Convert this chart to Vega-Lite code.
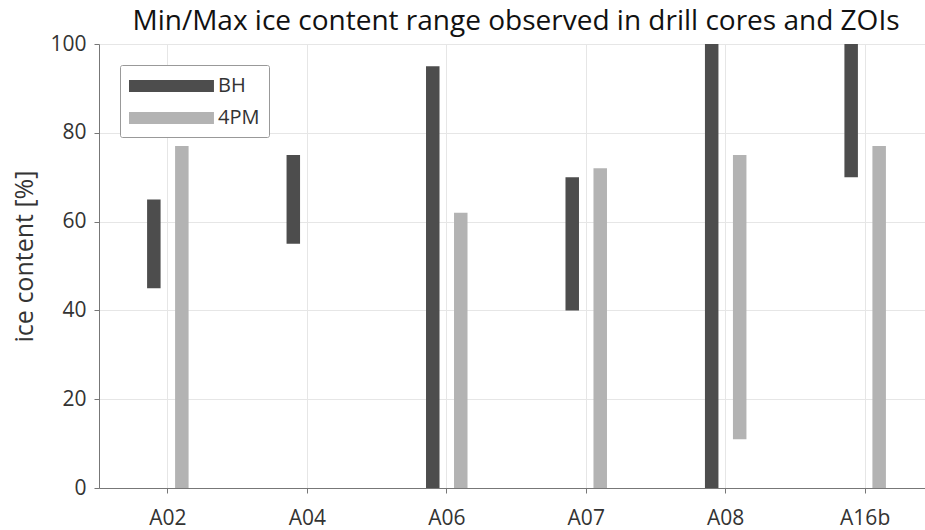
{
  "$schema": "https://vega.github.io/schema/vega-lite/v6.json",
  "width": 826,
  "height": 444,
  "autosize": {"type": "none"},
  "padding": {"left": 99, "top": 44, "right": 0, "bottom": 42},
  "title": {
    "text": "Min/Max ice content range observed in drill cores and ZOIs",
    "font": "Open Sans",
    "fontSize": 28,
    "fontWeight": "normal",
    "color": "#111111",
    "offset": -3,
    "dx": 4
  },
  "config": {
    "font": "Open Sans",
    "view": {"stroke": null},
    "axis": {
      "labelFont": "Open Sans",
      "titleFont": "Open Sans",
      "labelFontSize": 21,
      "labelColor": "#333333",
      "titleColor": "#333333",
      "titleFontWeight": "normal",
      "domainColor": "#777777",
      "tickColor": "#777777",
      "gridColor": "#e6e6e6",
      "tickSize": 5,
      "labelOverlap": false
    }
  },
  "data": {
    "values": [
      {"site": "A02", "series": "BH", "min": 45, "max": 65},
      {"site": "A02", "series": "4PM", "min": 0, "max": 77},
      {"site": "A04", "series": "BH", "min": 55, "max": 75},
      {"site": "A06", "series": "BH", "min": 0, "max": 95},
      {"site": "A06", "series": "4PM", "min": 0, "max": 62},
      {"site": "A07", "series": "BH", "min": 40, "max": 70},
      {"site": "A07", "series": "4PM", "min": 0, "max": 72},
      {"site": "A08", "series": "BH", "min": 0, "max": 100},
      {"site": "A08", "series": "4PM", "min": 11, "max": 75},
      {"site": "A16b", "series": "BH", "min": 70, "max": 100},
      {"site": "A16b", "series": "4PM", "min": 0, "max": 77}
    ]
  },
  "encoding": {
    "x": {
      "field": "site",
      "type": "nominal",
      "sort": ["A02", "A04", "A06", "A07", "A08", "A16b"],
      "scale": {"type": "point", "padding": 0.49, "range": [0, 834]},
      "axis": {"title": null, "labelAngle": 0, "grid": true, "labelPadding": 14}
    },
    "y": {
      "field": "min",
      "type": "quantitative",
      "scale": {"domain": [0, 100], "nice": false},
      "axis": {"title": "ice content [%]", "titleFontSize": 25, "titleY": 212, "values": [0, 20, 40, 60, 80, 100], "titlePadding": 12, "labelPadding": 8}
    },
    "y2": {"field": "max"},
    "color": {
      "field": "series",
      "type": "nominal",
      "scale": {"domain": ["BH", "4PM"], "range": ["#4d4d4d", "#b3b3b3"]},
      "legend": {
        "title": null,
        "orient": "top-left",
        "offset": 21,
        "symbolType": "M-1,-0.5H6.08V0.5H-1Z",
        "symbolSize": 576,
        "symbolStrokeWidth": 0,
        "symbolOpacity": 1,
        "labelFont": "Open Sans",
        "labelFontSize": 20,
        "labelColor": "#333333",
        "labelOffset": 65,
        "strokeColor": "#999999",
        "fillColor": "white",
        "padding": 9,
        "rowPadding": 10,
        "cornerRadius": 2
      }
    }
  },
  "layer": [
    {
      "transform": [{"filter": "datum.series === 'BH'"}],
      "mark": {"type": "bar", "width": 13.5, "xOffset": -13.5, "opacity": 1}
    },
    {
      "transform": [{"filter": "datum.series === '4PM'"}],
      "mark": {"type": "bar", "width": 13.5, "xOffset": 14.5, "opacity": 1}
    }
  ]
}
